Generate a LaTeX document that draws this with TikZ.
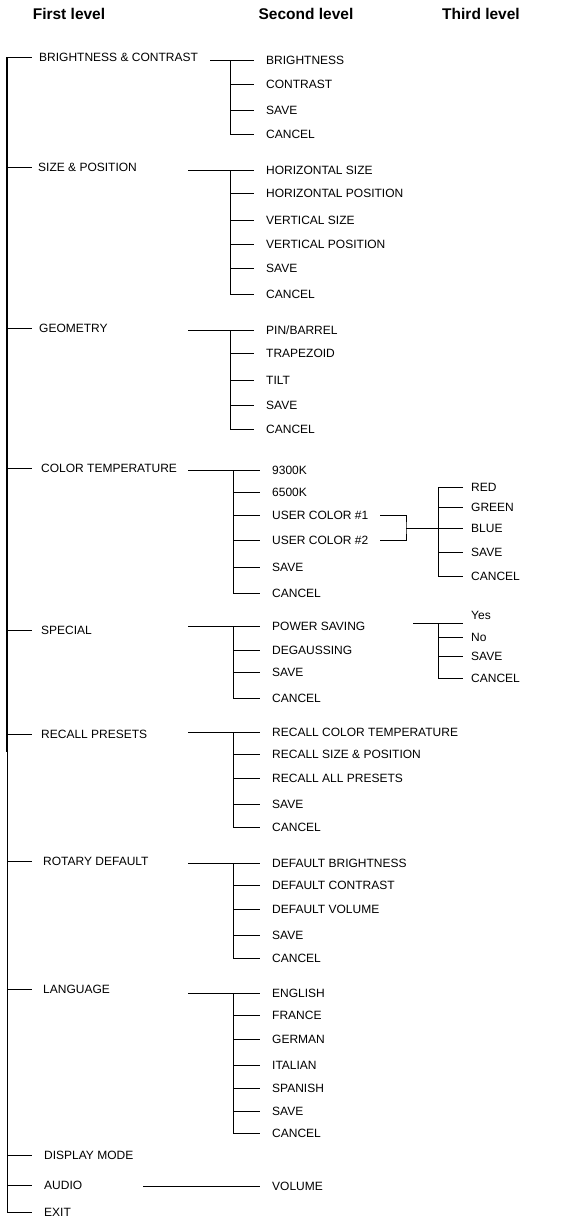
\documentclass[tikz,border=0pt]{standalone}
\usepackage{fontspec}
\setmainfont{Liberation Sans}

\tikzset{
  lvl/.style={anchor=west, inner ysep=0pt, text height=8.6pt, text depth=0pt, font=\fontsize{12}{14}\selectfont},
  first/.style={lvl, inner xsep=0pt},
  second/.style={lvl, inner xsep=12pt},
  third/.style={lvl, inner xsep=8pt},
  head/.style={inner sep=0pt, font=\bfseries\fontsize{15.5}{18}\selectfont},
  wire/.style={line width=1pt},
  spine/.style={line width=1.7pt},
}

\begin{document}
\begin{tikzpicture}[x=1pt, y=-1pt]
    \useasboundingbox (0, 0) rectangle (575, 1221);
    % headings
    \node [head] (h1) at (69, 14)  {First level};
    \node [head] (h2) at (306, 14) {Second level};
    \node [head] (h3) at (481, 14) {Third level};
    % first level
    \node [first] (bc)   at (39, 57)   {BRIGHTNESS \& CONTRAST};
    \node [first] (sp)   at (38, 167)  {SIZE \& POSITION};
    \node [first] (geo)  at (39, 328)  {GEOMETRY};
    \node [first] (ct)   at (41, 468)  {COLOR TEMPERATURE};
    \node [first] (spec) at (41, 630)  {SPECIAL};
    \node [first] (rp)   at (41, 734)  {RECALL PRESETS};
    \node [first] (rd)   at (43, 861)  {ROTARY DEFAULT};
    \node [first] (lang) at (43, 989)  {LANGUAGE};
    \node [first] (dm)   at (44, 1155) {DISPLAY MODE};
    \node [first] (aud)  at (44, 1185) {AUDIO};
    \node [first] (exit) at (44, 1212) {EXIT};
    \coordinate (spine) at (7, 57);
    \coordinate (tick)  at (32, 57);
    \coordinate (split) at (7, 752);
    \draw [spine] (spine) -- (split);
    \draw [wire]  (split) -- (exit.west -| spine);
    \draw [wire] (bc.west -| spine)   -- (bc.west -| tick);
    \draw [wire] (sp.west -| spine)   -- (sp.west -| tick);
    \draw [wire] (geo.west -| spine)  -- (geo.west -| tick);
    \draw [wire] (ct.west -| spine)   -- (ct.west -| tick);
    \draw [wire] (spec.west -| spine) -- (spec.west -| tick);
    \draw [wire] (rp.west -| spine)   -- (rp.west -| tick);
    \draw [wire] (rd.west -| spine)   -- (rd.west -| tick);
    \draw [wire] (lang.west -| spine) -- (lang.west -| tick);
    \draw [wire] (dm.west -| spine)   -- (dm.west -| tick);
    \draw [wire] (aud.west -| spine)  -- (aud.west -| tick);
    \draw [wire] (exit.west -| spine) -- (exit.west -| tick);
    % brightness & contrast
    \coordinate (bcin)  at (210, 60);
    \coordinate (bcbus) at (230, 60);
    \node [second] (bc1) at (254, 60)  {BRIGHTNESS};
    \node [second] (bc2) at (254, 84)  {CONTRAST};
    \node [second] (bc3) at (254, 110) {SAVE};
    \node [second] (bc4) at (254, 134) {CANCEL};
    \draw [wire] (bcin) -- (bc1.west);
    \draw [wire] (bcbus) |- (bc4.west);
    \draw [wire] (bc2.west -| bcbus) -- (bc2.west);
    \draw [wire] (bc3.west -| bcbus) -- (bc3.west);
    % size & position
    \coordinate (spin)  at (188, 170);
    \coordinate (spbus) at (230, 170);
    \node [second] (sp1) at (254, 170) {HORIZONTAL SIZE};
    \node [second] (sp2) at (254, 193) {HORIZONTAL POSITION};
    \node [second] (sp3) at (254, 220) {VERTICAL SIZE};
    \node [second] (sp4) at (254, 244) {VERTICAL POSITION};
    \node [second] (sp5) at (254, 268) {SAVE};
    \node [second] (sp6) at (254, 294) {CANCEL};
    \draw [wire] (spin) -- (sp1.west);
    \draw [wire] (spbus) |- (sp6.west);
    \draw [wire] (sp2.west -| spbus) -- (sp2.west);
    \draw [wire] (sp3.west -| spbus) -- (sp3.west);
    \draw [wire] (sp4.west -| spbus) -- (sp4.west);
    \draw [wire] (sp5.west -| spbus) -- (sp5.west);
    % geometry
    \coordinate (geoin)  at (188, 330);
    \coordinate (geobus) at (230, 330);
    \node [second] (geo1) at (254, 330) {PIN/BARREL};
    \node [second] (geo2) at (254, 353) {TRAPEZOID};
    \node [second] (geo3) at (254, 380) {TILT};
    \node [second] (geo4) at (254, 405) {SAVE};
    \node [second] (geo5) at (254, 429) {CANCEL};
    \draw [wire] (geoin) -- (geo1.west);
    \draw [wire] (geobus) |- (geo5.west);
    \draw [wire] (geo2.west -| geobus) -- (geo2.west);
    \draw [wire] (geo3.west -| geobus) -- (geo3.west);
    \draw [wire] (geo4.west -| geobus) -- (geo4.west);
    % color temperature
    \coordinate (ctin)  at (188, 470);
    \coordinate (ctbus) at (233, 470);
    \node [second] (ct1) at (260, 470) {9300K};
    \node [second] (ct2) at (260, 492) {6500K};
    \node [second] (ct3) at (260, 515) {USER COLOR \#1};
    \node [second] (ct4) at (260, 540) {USER COLOR \#2};
    \node [second] (ct5) at (260, 567) {SAVE};
    \node [second] (ct6) at (260, 593) {CANCEL};
    \draw [wire] (ctin) -- (ct1.west);
    \draw [wire] (ctbus) |- (ct6.west);
    \draw [wire] (ct2.west -| ctbus) -- (ct2.west);
    \draw [wire] (ct3.west -| ctbus) -- (ct3.west);
    \draw [wire] (ct4.west -| ctbus) -- (ct4.west);
    \draw [wire] (ct5.west -| ctbus) -- (ct5.west);
    % user colors
    \coordinate (ucj)   at (406, 528);
    \coordinate (ucbus) at (438, 487);
    \node [third] (uc1) at (463, 487) {RED};
    \node [third] (uc2) at (463, 507) {GREEN};
    \node [third] (uc3) at (463, 528) {BLUE};
    \node [third] (uc4) at (463, 552) {SAVE};
    \node [third] (uc5) at (463, 576) {CANCEL};
    \draw [wire] (ct3.east) -| (ucj) |- (ct4.east);
    \draw [wire] (ucj) -- (uc3.west);
    \draw [wire] (uc1.west) -- (ucbus) |- (uc5.west);
    \draw [wire] (uc2.west -| ucbus) -- (uc2.west);
    \draw [wire] (uc4.west -| ucbus) -- (uc4.west);
    % special
    \coordinate (specin)  at (188, 626);
    \coordinate (specbus) at (233, 626);
    \node [second] (spec1) at (260, 626) {POWER SAVING};
    \node [second] (spec2) at (260, 650) {DEGAUSSING};
    \node [second] (spec3) at (260, 672) {SAVE};
    \node [second] (spec4) at (260, 698) {CANCEL};
    \draw [wire] (specin) -- (spec1.west);
    \draw [wire] (specbus) |- (spec4.west);
    \draw [wire] (spec2.west -| specbus) -- (spec2.west);
    \draw [wire] (spec3.west -| specbus) -- (spec3.west);
    % power saving
    \coordinate (psin)  at (413, 623);
    \coordinate (psbus) at (438, 623);
    \node [third] (ps1) at (463, 615) {Yes};
    \node [third] (ps2) at (463, 637) {No};
    \node [third] (ps3) at (463, 656) {SAVE};
    \node [third] (ps4) at (463, 678) {CANCEL};
    \draw [wire] (psin) -- (psin -| ps1.west);
    \draw [wire] (psbus) |- (ps4.west);
    \draw [wire] (ps2.west -| psbus) -- (ps2.west);
    \draw [wire] (ps3.west -| psbus) -- (ps3.west);
    % recall presets
    \coordinate (rpin)  at (188, 732);
    \coordinate (rpbus) at (233, 732);
    \node [second] (rp1) at (260, 732) {RECALL COLOR TEMPERATURE};
    \node [second] (rp2) at (260, 754) {RECALL SIZE \& POSITION};
    \node [second] (rp3) at (260, 778) {RECALL ALL PRESETS};
    \node [second] (rp4) at (260, 804) {SAVE};
    \node [second] (rp5) at (260, 827) {CANCEL};
    \draw [wire] (rpin) -- (rp1.west);
    \draw [wire] (rpbus) |- (rp5.west);
    \draw [wire] (rp2.west -| rpbus) -- (rp2.west);
    \draw [wire] (rp3.west -| rpbus) -- (rp3.west);
    \draw [wire] (rp4.west -| rpbus) -- (rp4.west);
    % rotary default
    \coordinate (rdin)  at (188, 863);
    \coordinate (rdbus) at (233, 863);
    \node [second] (rd1) at (260, 863) {DEFAULT BRIGHTNESS};
    \node [second] (rd2) at (260, 885) {DEFAULT CONTRAST};
    \node [second] (rd3) at (260, 909) {DEFAULT VOLUME};
    \node [second] (rd4) at (260, 935) {SAVE};
    \node [second] (rd5) at (260, 958) {CANCEL};
    \draw [wire] (rdin) -- (rd1.west);
    \draw [wire] (rdbus) |- (rd5.west);
    \draw [wire] (rd2.west -| rdbus) -- (rd2.west);
    \draw [wire] (rd3.west -| rdbus) -- (rd3.west);
    \draw [wire] (rd4.west -| rdbus) -- (rd4.west);
    % language
    \coordinate (langin)  at (188, 993);
    \coordinate (langbus) at (233, 993);
    \node [second] (lang1) at (260, 993)  {ENGLISH};
    \node [second] (lang2) at (260, 1015) {FRANCE};
    \node [second] (lang3) at (260, 1039) {GERMAN};
    \node [second] (lang4) at (260, 1065) {ITALIAN};
    \node [second] (lang5) at (260, 1088) {SPANISH};
    \node [second] (lang6) at (260, 1111) {SAVE};
    \node [second] (lang7) at (260, 1133) {CANCEL};
    \draw [wire] (langin) -- (lang1.west);
    \draw [wire] (langbus) |- (lang7.west);
    \draw [wire] (lang2.west -| langbus) -- (lang2.west);
    \draw [wire] (lang3.west -| langbus) -- (lang3.west);
    \draw [wire] (lang4.west -| langbus) -- (lang4.west);
    \draw [wire] (lang5.west -| langbus) -- (lang5.west);
    \draw [wire] (lang6.west -| langbus) -- (lang6.west);
    % audio
    \coordinate (audin) at (143, 1186);
    \node [second] (aud1) at (260, 1186) {VOLUME};
    \draw [wire] (audin) -- (aud1.west);
\end{tikzpicture}
\end{document}
